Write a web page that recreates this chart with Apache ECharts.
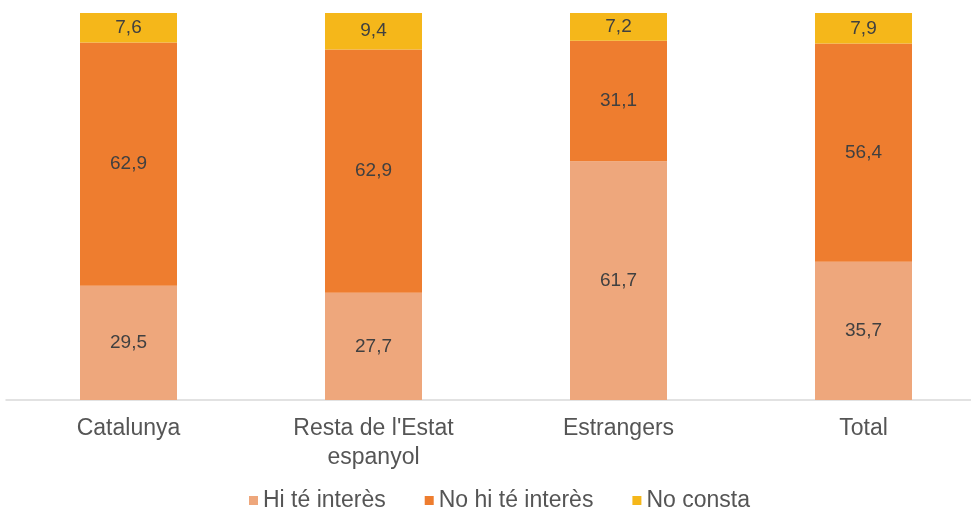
<!DOCTYPE html>
<html><head><meta charset="utf-8">
<script src="https://cdn.jsdelivr.net/npm/echarts@6/dist/echarts.min.js"></script>
<style>html,body{margin:0;padding:0;background:#fff;overflow:hidden;width:971px;height:512px}#c{width:992px;height:512px}</style>
</head><body><div id="c"></div>
<script>
var categories = ['Catalunya', "Resta de l'Estat\nespanyol", 'Estrangers', 'Total'];
var hiTeInteres = [29.5, 27.7, 61.7, 35.7];
var noHiTeInteres = [62.9, 62.9, 31.1, 56.4];
var noConsta = [7.6, 9.4, 7.2, 7.9];
var seriesNames = ['Hi té interès', 'No hi té interès', 'No consta'];
var colors = ['#EEA77C', '#EE7D2F', '#F5B71A'];

var chart = echarts.init(document.getElementById('c'));
function fmt(p){ return p.value.toFixed(1).replace('.', ','); }
var FF = 'Liberation Sans, Arial, sans-serif';
var lbl = {show:true, position:'inside', formatter:fmt, color:'#404040', fontSize:19, fontFamily:FF};
function mk(name, data, color){
  return {name:name, type:'bar', stack:'t', data:data, barWidth:97,
    itemStyle:{color:color}, label:lbl, emphasis:{disabled:true}};
}
chart.setOption({
  animation:false,
  color:colors,
  grid:{left:6, width:980, top:13, bottom:112, containLabel:false},
  legend:{top:484, left:244, itemWidth:9, itemHeight:9, itemGap:39,
    icon:'rect',
    textStyle:{color:'#555555', fontSize:23, fontFamily:FF, padding:[0,0,0,0]},
    data:seriesNames},
  xAxis:{type:'category', data:categories,
    axisLine:{lineStyle:{color:'#D9D9D9', width:1.5}},
    axisTick:{show:false},
    axisLabel:{color:'#555555', fontSize:23, lineHeight:29, margin:14, fontFamily:FF}},
  yAxis:{type:'value', min:0, max:100, show:false},
  series:[mk(seriesNames[0], hiTeInteres, colors[0]), mk(seriesNames[1], noHiTeInteres, colors[1]), mk(seriesNames[2], noConsta, colors[2])]
});
</script></body></html>
